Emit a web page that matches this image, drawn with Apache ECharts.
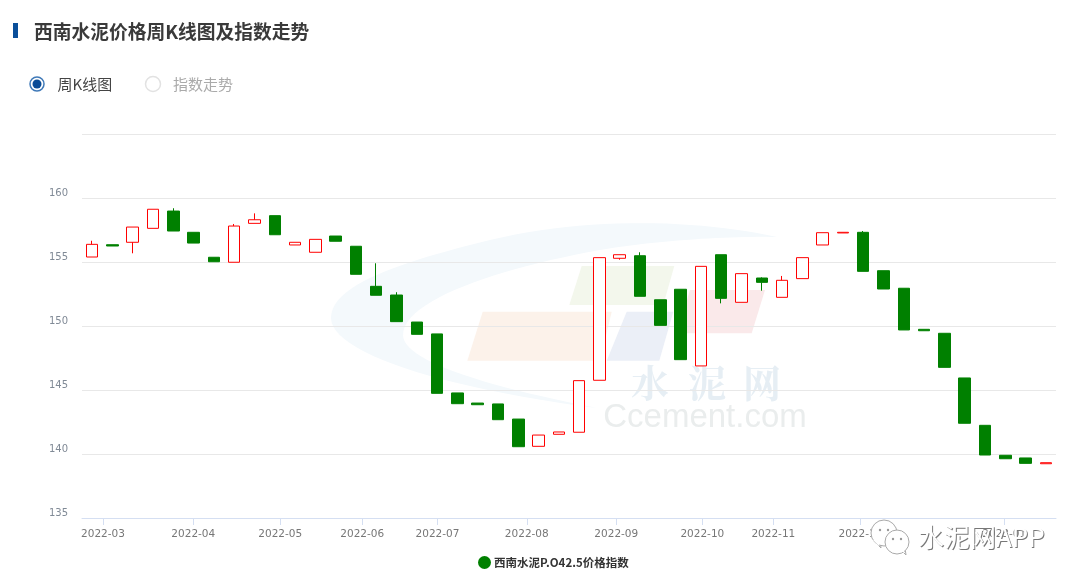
<!DOCTYPE html>
<html>
<head>
<meta charset="utf-8">
<style>html,body{margin:0;padding:0;background:#fff}#c{width:1080px;height:584px}</style>
<script src="https://cdn.jsdelivr.net/npm/echarts@6/dist/echarts.min.js"></script>
</head>
<body>
<div id="c"></div>
<script>
const seriesName = '西南水泥P.O42.5价格指数';
const opens  = [155.39,156.35,156.54,157.63,158.98,157.32,155.37,154.98,158.02,158.62,156.33,155.76,157.03,156.23,153.10,152.42,150.31,149.38,144.77,143.98,143.91,142.73,140.60,141.54,141.70,145.76,155.29,155.49,152.05,152.87,146.88,155.57,151.85,153.75,152.24,153.70,156.33,157.27,157.32,154.32,152.95,149.74,149.43,145.94,142.24,139.90,139.69,139.24];
const closes = [156.38,156.25,157.73,159.12,157.42,156.48,155.02,157.81,158.30,157.13,156.54,156.77,156.62,154.04,152.40,150.34,149.35,144.74,143.93,143.85,142.68,140.57,141.48,141.72,145.73,155.34,155.57,152.32,150.05,147.37,154.66,152.16,154.09,153.41,153.57,155.34,157.29,157.32,154.27,152.89,149.69,149.63,146.77,142.40,139.92,139.63,139.27,139.32];
const lows   = [155.39,156.25,155.68,157.63,157.42,156.48,155.02,154.98,158.02,157.13,156.33,155.76,156.62,154.04,152.40,150.34,149.35,144.74,143.93,143.85,142.68,140.57,140.60,141.54,141.70,145.76,155.18,152.32,150.05,147.37,146.88,151.77,151.85,152.76,152.24,153.70,156.33,157.27,154.27,152.89,149.69,149.63,146.77,142.40,139.92,139.63,139.27,139.24];
const highs  = [156.66,156.35,157.73,159.12,159.20,157.32,155.37,157.97,158.80,158.62,156.54,156.77,157.03,156.23,154.90,152.64,150.31,149.38,144.77,143.98,143.91,142.73,141.48,141.72,145.73,155.34,155.57,155.76,152.05,152.87,154.66,155.57,154.09,153.80,153.91,155.34,157.29,157.32,157.42,154.32,152.95,149.74,149.43,145.94,142.24,139.90,139.69,139.32];
const monthLabels = ['2022-03','2022-04','2022-05','2022-06','2022-07','2022-08','2022-09','2022-10','2022-11','2022-12','2023-01'];
const monthWeekPositions = [0.535,4.985,9.27,13.31,17.02,21.42,25.83,30.07,33.57,37.86,44.95];
const yTicks = {min:135, max:165, step:5};

const candles = opens.map((o,i)=>[i,o,closes[i],lows[i],highs[i]]);
const CJK = '"Noto Sans CJK SC","Noto Sans",sans-serif';
const chart = echarts.init(document.getElementById('c'),null,{renderer:'canvas'});

function bez(p0,p1,p2,p3,n=24){const r=[];for(let k=1;k<=n;k++){const t=k/n,u=1-t;r.push([u*u*u*p0[0]+3*u*u*t*p1[0]+3*u*t*t*p2[0]+t*t*t*p3[0],u*u*u*p0[1]+3*u*u*t*p1[1]+3*u*t*t*p2[1]+t*t*t*p3[1]]);}return r;}
const swoosh=[[777,237],
  ...bez([777,237],[700,220],[590,216],[490,240]),
  ...bez([490,240],[400,262],[331,285],[331,318]),
  ...bez([331,318],[331,352],[440,388],[597,408]),
  ...bez([597,408],[480,385],[403,360],[403,335]),
  ...bez([403,335],[403,300],[500,268],[600,250]),
  ...bez([600,250],[660,240],[730,236],[777,237])];

const wm = [
  {type:'polygon',z:-5,shape:{points:swoosh},style:{fill:'#f4f9fc'}},
  {type:'polygon',z:-4,shape:{points:[[482.7,311.7],[611.7,311.7],[600,360.7],[467.3,360.7]]},style:{fill:'#fcf2ea'}},
  {type:'polygon',z:-4,shape:{points:[[626.7,311.7],[673.3,311.7],[659.3,360.7],[606.7,360.7]]},style:{fill:'#ebeff7'}},
  {type:'polygon',z:-4,shape:{points:[[581.7,266],[674.3,266],[663.3,305],[569.3,305]]},style:{fill:'#f3f7ec'}},
  {type:'polygon',z:-4,shape:{points:[[690,290],[765,290],[751.7,333.3],[677,333.3]]},style:{fill:'#fae9ea'}},
];
['水','泥','网'].forEach((t,i)=>wm.push({type:'text',z:-3,x:[650,707,762][i],y:383,style:{text:t,fill:'#e6eef4',font:'bold 38px "Noto Serif CJK SC","Noto Sans CJK SC",sans-serif',textAlign:'center',textVerticalAlign:'middle'}}));
wm.push({type:'text',z:-3,x:705,y:418,style:{text:'Ccement.com',fill:'#eaeded',font:'33px "Liberation Sans",sans-serif',textAlign:'center',textVerticalAlign:'middle'}});

const head = [
  {type:'rect',shape:{x:13,y:23,width:5,height:15},style:{fill:'#0a4f9a'}},
  {type:'text',x:34,y:32,style:{text:'西南水泥价格周K线图及指数走势',fill:'#3a3a3a',font:'bold 18.75px '+CJK,textVerticalAlign:'middle'}},
  {type:'circle',shape:{cx:37,cy:84,r:7},style:{fill:'#fff',stroke:'#3f79b8',lineWidth:1.5}},
  {type:'circle',shape:{cx:37,cy:84,r:4.5},style:{fill:'#0a4b96'}},
  {type:'text',x:57.5,y:84.5,style:{text:'周K线图',fill:'#444',font:'15px '+CJK,textVerticalAlign:'middle'}},
  {type:'circle',shape:{cx:153,cy:84,r:7.5},style:{fill:'#fff',stroke:'#e2e2e2',lineWidth:1.5}},
  {type:'text',x:173,y:84.5,style:{text:'指数走势',fill:'#aaa',font:'15px '+CJK,textVerticalAlign:'middle'}},
];

const bubble = (cx,cy,r,tx,ty,z)=>[
  {type:'polygon',z,shape:{points:[[cx+tx-4,cy+ty-5],[cx+tx+3,cy+ty+2],[cx+tx+2,cy+ty-5]]},style:{fill:'#fff',stroke:'#aaa',lineWidth:1}},
  {type:'circle',z,shape:{cx,cy,r},style:{fill:'#fff',stroke:'#aaa',lineWidth:1}},
  {type:'polygon',z,shape:{points:[[cx+tx-5,cy+ty-6],[cx+tx+1,cy+ty],[cx+tx+1,cy+ty-6]]},style:{fill:'#fff'}},
  {type:'circle',z,shape:{cx:cx-4,cy:cy-3,r:1.2},style:{fill:'#999'}},
  {type:'circle',z,shape:{cx:cx+4,cy:cy-3,r:1.2},style:{fill:'#999'}},
];
const stamp = [
  ...bubble(884,533,13,-6,13,50),
  ...bubble(897,542,12,6,11,51),
  {type:'text',z:52,x:919,y:538.5,style:{text:'水泥网APP',fill:'#777',font:'26px '+CJK,textVerticalAlign:'middle'}},
  {type:'text',z:53,x:918,y:537.5,style:{text:'水泥网APP',fill:'#fff',font:'26px '+CJK,textVerticalAlign:'middle'}},
];

chart.setOption({
  animation:false,
  backgroundColor:'#fff',
  grid:{left:82,right:24,top:134,bottom:66},
  legend:{
    show:true,left:473,top:551,itemWidth:13,itemHeight:13,icon:'circle',
    data:[{name:seriesName,itemStyle:{color:'#008000',borderWidth:0}}],
    textStyle:{color:'#333',fontSize:11.5,fontWeight:'bold',fontFamily:CJK,padding:[0,0,0,-2]}
  },
  xAxis:{
    type:'value',min:-0.5,max:47.5,
    axisLine:{show:true,onZero:false,lineStyle:{color:'#d5dff2',width:1}},
    axisTick:{show:true,length:7,customValues:monthWeekPositions,lineStyle:{color:'#d5dff2'}},
    axisLabel:{
      customValues:monthWeekPositions,color:'#777',fontSize:10.5,fontFamily:'"DejaVu Sans",sans-serif',margin:11,
      formatter:v=>monthLabels[monthWeekPositions.indexOf(v)]
    },
    splitLine:{show:false}
  },
  yAxis:{
    type:'value',scale:true,min:yTicks.min,max:yTicks.max,interval:yTicks.step,
    axisLine:{show:false},axisTick:{show:false},
    axisLabel:{color:'#808a96',fontSize:10,fontFamily:'"DejaVu Sans",sans-serif',margin:14,verticalAlign:'bottom',lineHeight:9,
      formatter:v=>v===yTicks.max?'':String(v)},
    splitLine:{show:true,lineStyle:{color:'#e8e8e8',width:1}}
  },
  series:[{
    name:seriesName,type:'candlestick',data:candles,barWidth:12,
    encode:{x:0,y:[1,2,3,4]},
    itemStyle:{color:'#ffffff',color0:'#008000',borderColor:'#ff0000',borderColor0:'#008000',borderWidth:1}
  }],
  graphic:{elements:[...wm,...head,...stamp]}
});
</script>
</body>
</html>
